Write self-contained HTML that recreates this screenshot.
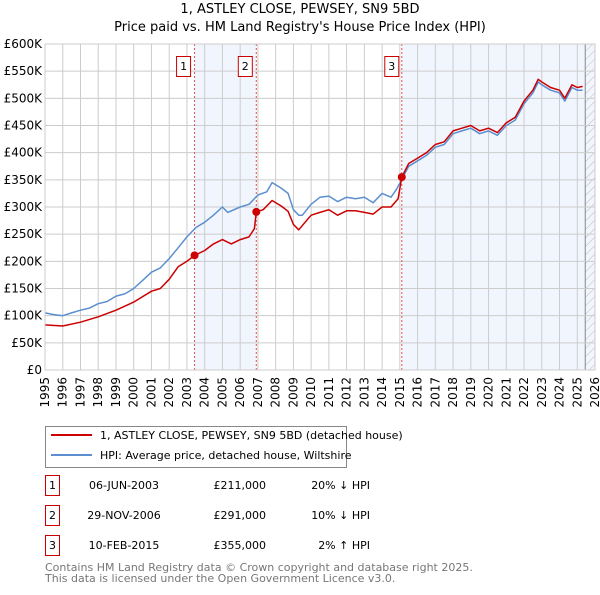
<!DOCTYPE html>
<html><head><meta charset="utf-8"><style>
body{margin:0;background:#fff;font-family:"Liberation Sans","DejaVu Sans",sans-serif;}
svg text{font-family:"DejaVu Sans","Liberation Sans",sans-serif;}
</style></head><body>
<svg id="c" width="600" height="590" xmlns="http://www.w3.org/2000/svg">
<defs><pattern id="h" width="6" height="6" patternUnits="userSpaceOnUse" patternTransform="rotate(45)"><line x1="0" y1="0" x2="0" y2="6" stroke="#bbb" stroke-width="1"/></pattern></defs>
<text x="300" y="13" text-anchor="middle" font-size="13">1, ASTLEY CLOSE, PEWSEY, SN9 5BD</text>
<text x="300" y="31" text-anchor="middle" font-size="13">Price paid vs. HM Land Registry's House Price Index (HPI)</text>
<g id="plot"></g>
<g>
<rect x="45.5" y="426.5" width="301" height="41" fill="#fff" stroke="#888"/>
<line x1="51" y1="435" x2="92" y2="435" stroke="#cc0000" stroke-width="2"/>
<text x="100" y="439" font-size="11">1, ASTLEY CLOSE, PEWSEY, SN9 5BD (detached house)</text>
<line x1="51" y1="455" x2="92" y2="455" stroke="#5b8fd0" stroke-width="2"/>
<text x="100" y="459" font-size="11">HPI: Average price, detached house, Wiltshire</text>
</g>
<g font-size="11">
<rect x="45.5" y="475.5" width="14" height="20" fill="#fff" stroke="#cc0000"/><text x="52.5" y="489" text-anchor="middle">1</text>
<text x="124" y="489" text-anchor="middle">06-JUN-2003</text><text x="266" y="489" text-anchor="end">£211,000</text><text x="370" y="489" text-anchor="end">20% ↓ HPI</text>
<rect x="45.5" y="505.5" width="14" height="20" fill="#fff" stroke="#cc0000"/><text x="52.5" y="519" text-anchor="middle">2</text>
<text x="124" y="519" text-anchor="middle">29-NOV-2006</text><text x="266" y="519" text-anchor="end">£291,000</text><text x="370" y="519" text-anchor="end">10% ↓ HPI</text>
<rect x="45.5" y="535.5" width="14" height="20" fill="#fff" stroke="#cc0000"/><text x="52.5" y="549" text-anchor="middle">3</text>
<text x="124" y="549" text-anchor="middle">10-FEB-2015</text><text x="266" y="549" text-anchor="end">£355,000</text><text x="370" y="549" text-anchor="end">2% ↑ HPI</text>
</g>
<text x="45" y="571" font-size="11" fill="#777">Contains HM Land Registry data © Crown copyright and database right 2025.</text>
<text x="45" y="582" font-size="11" fill="#777">This data is licensed under the Open Government Licence v3.0.</text>
</svg>
<script>
const hpiYears=[1995,1995.5,1996,1996.5,1997,1997.5,1998,1998.5,1999,1999.5,2000,2000.5,2001,2001.5,2002,2002.5,2003,2003.5,2004,2004.5,2005,2005.3,2006,2006.5,2007,2007.5,2007.8,2008.3,2008.7,2009,2009.3,2009.5,2010,2010.5,2011,2011.5,2012,2012.5,2013,2013.5,2014,2014.5,2014.8,2015.1,2015.5,2016,2016.5,2017,2017.5,2018,2018.5,2019,2019.5,2020,2020.5,2021,2021.5,2022,2022.5,2022.8,2023,2023.5,2024,2024.3,2024.7,2025,2025.3];
const hpiValues=[105,102,100,105,110,114,122,126,136,140,150,165,180,188,205,225,245,262,272,285,300,290,300,305,322,328,345,335,325,295,285,285,305,318,320,310,318,315,318,308,325,318,332,350,375,385,395,410,415,435,440,445,435,440,432,450,460,490,510,530,525,515,510,495,520,515,515];
const priceYears=[1995,1996,1997,1998,1999,2000,2001,2001.5,2002,2002.5,2003,2003.43,2004,2004.5,2005,2005.5,2006,2006.5,2006.8,2006.91,2007.3,2007.8,2008.3,2008.7,2009,2009.3,2010,2010.5,2011,2011.5,2012,2012.5,2013,2013.5,2014,2014.5,2014.9,2015.11,2015.5,2016,2016.5,2017,2017.5,2018,2018.5,2019,2019.5,2020,2020.5,2021,2021.5,2022,2022.5,2022.8,2023,2023.5,2024,2024.3,2024.7,2025,2025.3];
const priceValues=[83,81,88,98,110,125,145,150,167,190,200,211,220,232,240,232,240,245,260,291,295,312,302,292,268,258,285,290,295,285,293,293,290,287,300,300,315,355,380,390,400,415,420,440,445,450,440,445,437,455,465,495,515,535,530,520,515,500,525,520,522];
const saleYears=[2003.43,2006.91,2015.11];
const saleValues=[211,291,355];
const saleLabels=["1","2","3"];
const yTicks=[0,50,100,150,200,250,300,350,400,450,500,550,600];
const xTicks=[1995,1996,1997,1998,1999,2000,2001,2002,2003,2004,2005,2006,2007,2008,2009,2010,2011,2012,2013,2014,2015,2016,2017,2018,2019,2020,2021,2022,2023,2024,2025,2026];
const X0=45,X1=595,Y0=370,Y1=44;
const xs=y=>X0+(y-1995)/31*(X1-X0);
const ys=v=>Y0-v/600*(Y0-Y1);
const NS="http://www.w3.org/2000/svg";
const g=document.getElementById('plot');
function mk(t,a,p){const e=document.createElementNS(NS,t);for(const k in a)e.setAttribute(k,a[k]);(p||g).appendChild(e);return e;}
let e;
e=mk('rect',{x:X0,y:Y1,width:X1-X0,height:Y0-Y1,fill:'#fff'});


e=mk('rect',{x:xs(saleYears[0]),y:Y1,width:xs(saleYears[1])-xs(saleYears[0]),height:Y0-Y1,fill:'#eef3fc',opacity:0.8});


e=mk('rect',{x:xs(saleYears[2]),y:Y1,width:X1-xs(saleYears[2]),height:Y0-Y1,fill:'#eef3fc',opacity:0.8});


e=mk('rect',{x:xs(2025.45),y:Y1,width:X1-xs(2025.45),height:Y0-Y1,fill:'url(#h)'});


e=mk('line',{x1:xs(2025.45),x2:xs(2025.45),y1:Y1,y2:Y0,stroke:'#888'});


yTicks.forEach(v=>{
 e=mk('line',{x1:X0,x2:X1,y1:ys(v),y2:ys(v),stroke:'#ccc'});
 
 
 e=mk('text',{x:X0-3,y:ys(v)+4,'text-anchor':'end','font-size':12});
 e.textContent=v===0?'£0':'£'+v+'K';
 
 
});
xTicks.forEach(y=>{
 e=mk('line',{x1:xs(y),x2:xs(y),y1:Y1,y2:Y0,stroke:'#ccc'});
 
 
 const tx=xs(y)+4, ty=377;
 e=mk('text',{x:tx,y:ty,'text-anchor':'end','font-size':12,transform:'rotate(-90 '+tx+' '+ty+')'});
 e.textContent=y;
 
 
});
saleYears.forEach((y,i)=>{
 e=mk('line',{x1:xs(y),x2:xs(y),y1:Y1,y2:Y0,stroke:'#e05050','stroke-dasharray':'2,2'});
 
 
});
function line(xa,va,c,n){
 e=mk('polyline',{points:xa.map((y,i)=>xs(y).toFixed(1)+','+ys(va[i]).toFixed(1)).join(' '),fill:'none',stroke:c,'stroke-width':1.5,'stroke-linejoin':'round'});
 
 
}
line(hpiYears,hpiValues,'#5b8fd0','hpi-line');
line(priceYears,priceValues,'#cc0000','price-line');
saleYears.forEach((y,i)=>{
 e=mk('circle',{cx:xs(y),cy:ys(saleValues[i]),r:4,fill:'#cc0000'});
 
 
 const bx=xs(y)-(i===2?10:11);
 e=mk('rect',{x:bx-7,y:56.5,width:14,height:20,fill:'#fff',stroke:'#cc0000'});
 
 
 e=mk('text',{x:bx,y:70,'text-anchor':'middle','font-size':11});
 e.textContent=saleLabels[i];
 
 
});
e=mk('rect',{x:X0,y:Y1,width:X1-X0,height:Y0-Y1,fill:'none',stroke:'#ccc'});


</script>
</body></html>
